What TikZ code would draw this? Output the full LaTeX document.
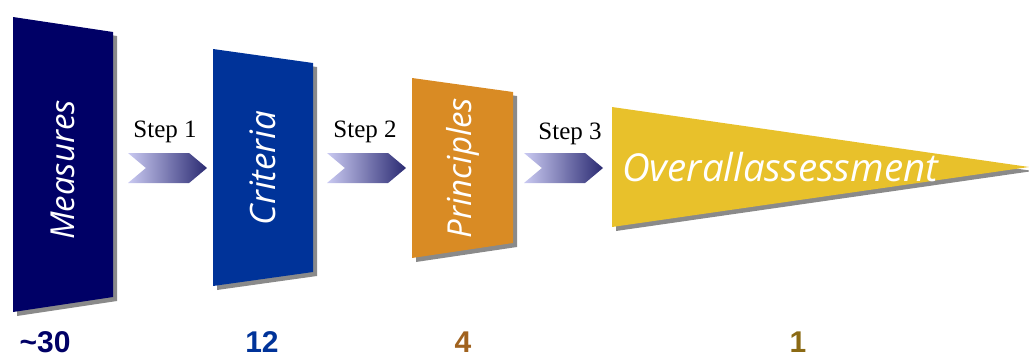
\documentclass[tikz,border=0pt]{standalone}
\usepackage{fontspec}
\setmainfont{Liberation Serif}
\newfontfamily\stagefont{Open Sans}
\newfontfamily\countfont{Liberation Sans}
\usetikzlibrary{shapes.symbols, positioning, calc}

\definecolor{measuresblue}{HTML}{000066}
\definecolor{criteriablue}{HTML}{003399}
\definecolor{principlesorange}{HTML}{D98B24}
\definecolor{overallyellow}{HTML}{E8C12B}
\definecolor{shadowgray}{HTML}{8A8A8A}
\definecolor{arrowlight}{HTML}{CACAF2}
\definecolor{arrowdark}{HTML}{2B2B72}
\definecolor{countbrown}{HTML}{A0621E}
\definecolor{countolive}{HTML}{8B6A14}

\begin{document}
\begin{tikzpicture}[x=1pt, y=-1pt,
    stagelabel/.style={text=white, inner sep=0pt, rotate=90, font=\stagefont\itshape\fontsize{33}{40}\selectfont},
    steparrow/.style={signal, signal from=west, signal to=east, signal pointer angle=80,
        minimum width=79pt, minimum height=30pt, inner sep=0pt, draw=none,
        left color=arrowlight, right color=arrowdark},
    steplabel/.style={anchor=base, inner sep=0pt, font=\fontsize{25}{30}\selectfont},
    countlabel/.style={anchor=base, inner sep=0pt, font=\countfont\bfseries\fontsize{30}{36}\selectfont}
]
\useasboundingbox (0,0) rectangle (1029,359);

% Measures column
\fill[shadowgray, shift={(4,4)}] (13,17) -- (113,32) -- (113,297) -- (13,312) -- cycle;
\fill[measuresblue] (13,17) -- (113,32) -- (113,297) -- (13,312) -- cycle;
\node[stagelabel] (measures) at (63,170) {Measures};

% Criteria column
\fill[shadowgray, shift={(4,4)}] (213,49) -- (313,63) -- (313,272) -- (213,286) -- cycle;
\fill[criteriablue] (213,49) -- (313,63) -- (313,272) -- (213,286) -- cycle;
\node[stagelabel, font=\stagefont\itshape\fontsize{35}{42}\selectfont] (criteria) at (263,168) {Criteria};

% Principles column
\fill[shadowgray, shift={(4,4)}] (412,78) -- (513,92) -- (513,243) -- (412,258) -- cycle;
\fill[principlesorange] (412,78) -- (513,92) -- (513,243) -- (412,258) -- cycle;
\node[stagelabel] (principles) at (463,168) {Principles};

% Overall assessment - pennant pointing right
\fill[shadowgray, shift={(4,4)}] (612,107) -- (1029,167) -- (612,227) -- cycle;
\fill[overallyellow] (612,107) -- (1029,167) -- (612,227) -- cycle;
\node[anchor=base west, inner sep=0pt, text=white, font=\stagefont\itshape\fontsize{38.5}{46}\selectfont] (overall) at (622,181) {Overallassessment};

% Step arrows between the columns
\node[steparrow] (arrow1) at (167.5,168) {};
\node[steparrow] (arrow2) at (366.5,168) {};
\node[steparrow] (arrow3) at (563.5,168) {};

\node[steplabel] (step1) at (165,137) {Step 1};
\node[steplabel] (step2) at (365,137) {Step 2};
\node[steplabel] (step3) at (570,139) {Step 3};

% Counts below
\node[countlabel, text=measuresblue] (count1) at (45,352) {\textasciitilde30};
\node[countlabel, text=criteriablue] (count2) at (262,352) {12};
\node[countlabel, text=countbrown] (count3) at (463,352) {4};
\node[countlabel, text=countolive] (count4) at (798,352) {1};

\end{tikzpicture}
\end{document}
